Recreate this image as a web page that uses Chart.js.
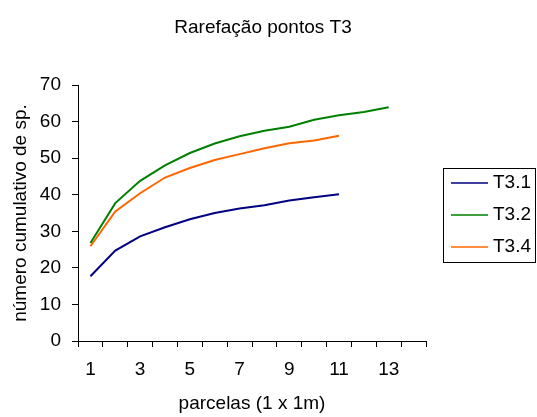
<!doctype html>
<html lang="pt">
  <head>
    <meta charset="UTF-8" />
    <title>Rarefação pontos T3</title>
    <script src="https://cdn.jsdelivr.net/npm/chart.js@4.4.0/dist/chart.umd.min.js"></script>
    <style>
      body { margin: 0; background: #fff; }
      .chart-box { width: 537px; height: 417px; }
    </style>
  </head>
  <body>
    <div class="chart-box"><canvas id="rarefChart"></canvas></div>
    <script>
// parcelas 1..14 (x), numero cumulativo de especies (y)
const parcelas = ['1', '2', '3', '4', '5', '6', '7', '8', '9', '10', '11', '12', '13', '14'];
const serieNomes = ['T3.1', 'T3.2', 'T3.4'];
const t31 = [17.7, 24.7, 28.6, 31.1, 33.3, 35.0, 36.2, 37.1, 38.4, 39.3, 40.1];
const t32 = [26.8, 37.7, 43.8, 48.0, 51.4, 54.0, 56.0, 57.5, 58.6, 60.5, 61.7, 62.6, 63.9];
const t34 = [25.9, 35.4, 40.4, 44.7, 47.3, 49.5, 51.1, 52.7, 54.1, 54.8, 56.1];
const cores = ['#000080', '#008000', '#ff6600'];
const titulo = 'Rarefação pontos T3';

const fonte = "'Liberation Sans', Arial, sans-serif";
Chart.defaults.font.family = fonte;
Chart.defaults.font.size = 19;
Chart.defaults.color = '#000';

// titulo centrado na pagina e legenda com caixa a direita
const tituloLegenda = {
    id: 'tituloLegenda',
    afterDraw(chart) {
        const ctx = chart.ctx;
        ctx.save();
        ctx.font = '19px ' + fonte;
        ctx.fillStyle = '#000';
        ctx.textAlign = 'center';
        ctx.textBaseline = 'middle';
        ctx.fillText(titulo, 263, 28);

        const x0 = 443, y0 = 168, w = 92, h = 94;
        ctx.strokeStyle = '#000';
        ctx.lineWidth = 1;
        ctx.strokeRect(x0 + 0.5, y0 + 0.5, w, h);
        ctx.textAlign = 'left';
        chart.data.datasets.forEach((ds, i) => {
            const y = y0 + 15 + i * 32;
            ctx.strokeStyle = ds.borderColor;
            ctx.lineWidth = 1.5;
            ctx.beginPath();
            ctx.moveTo(451, y);
            ctx.lineTo(488, y);
            ctx.stroke();
            ctx.fillText(ds.label, 493, y);
        });
        ctx.restore();
    }
};

const ctx = document.getElementById('rarefChart').getContext('2d');
const rarefChart = new Chart(ctx, {
    type: 'line',
    data: {
        labels: parcelas,
        datasets: [t31, t32, t34].map((serie, i) => ({
            label: serieNomes[i],
            data: serie,
            borderColor: cores[i],
            backgroundColor: cores[i],
            borderWidth: 2,
            pointRadius: 0,
            tension: 0,
            fill: false
        }))
    },
    options: {
        responsive: true,
        maintainAspectRatio: false,
        animation: false,
        layout: { padding: { left: 0, right: 111, top: 85, bottom: 0 } },
        plugins: {
            legend: { display: false },
            tooltip: { enabled: false },
            title: { display: false }
        },
        scales: {
            x: {
                offset: true,
                grid: { offset: true, drawOnChartArea: false, drawTicks: true, tickLength: 6, color: '#000' },
                border: { color: '#000', width: 1 },
                ticks: {
                    autoSkip: false,
                    maxRotation: 0,
                    padding: 11,
                    callback: (v, i) => (i % 2 === 0 ? parcelas[i] : '')
                },
                title: {
                    display: true,
                    text: 'parcelas (1 x 1m)',
                    padding: { top: 4, bottom: 2 }
                },
                afterFit(scale) { scale.height = 76; }
            },
            y: {
                min: 0,
                max: 70,
                grid: { drawOnChartArea: false, drawTicks: true, tickLength: 6, color: '#000' },
                border: { color: '#000', width: 1 },
                ticks: { stepSize: 10, padding: 11 },
                title: {
                    display: true,
                    text: 'número cumulativo de sp.',
                    padding: { top: 9, bottom: 0 }
                },
                afterFit(scale) { scale.width = 78; }
            }
        }
    },
    plugins: [tituloLegenda]
});
    </script>
  </body>
</html>
